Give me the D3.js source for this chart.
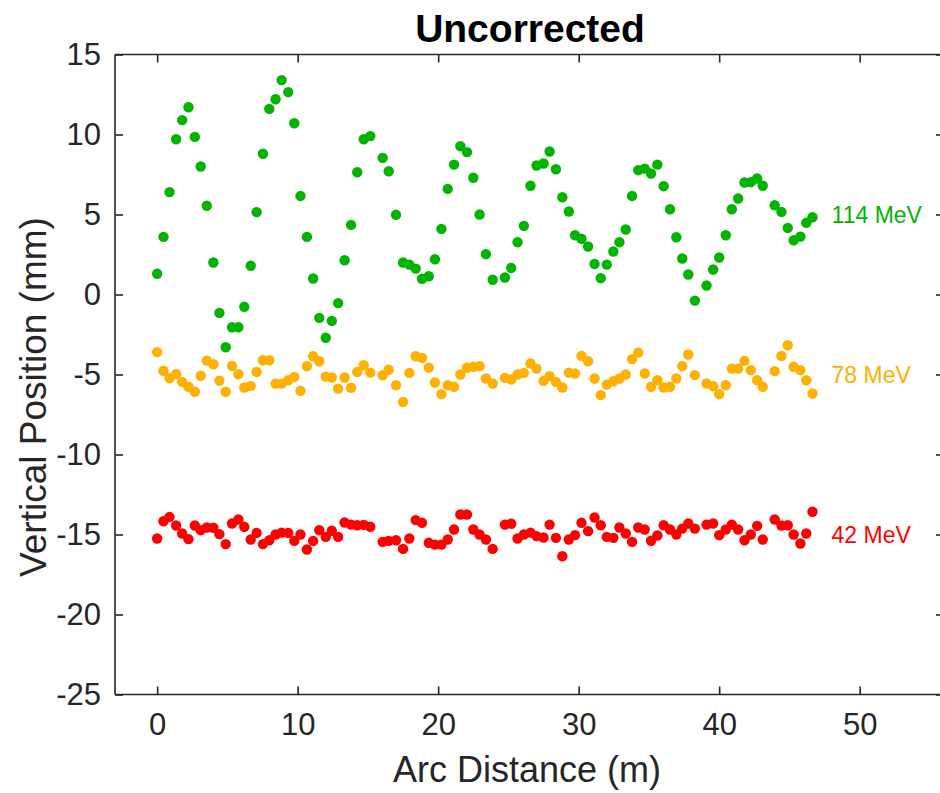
<!DOCTYPE html>
<html><head><meta charset="utf-8">
<script src="https://cdn.jsdelivr.net/npm/d3@7"></script>
<style>
body{margin:0;background:#fff;}
text{font-family:"Liberation Sans",Arial,Helvetica,sans-serif;}
</style></head>
<body><svg id="c" width="940" height="793"></svg>
<script>
const arcDistance=[0,0.45,0.88,1.35,1.78,2.23,2.68,3.1,3.53,4.0,4.43,4.88,5.33,5.78,6.2,6.66,7.08,7.53,7.98,8.43,8.86,9.33,9.76,10.2,10.66,11.1,11.54,12.0,12.43,12.88,13.34,13.8,14.24,14.7,15.17,
16.05,16.48,17.0,17.5,17.95,18.4,18.85,19.33,19.77,20.23,20.68,21.13,21.58,22.05,22.5,22.95,23.4,23.88,
24.75,25.2,25.65,26.1,26.57,27.0,27.5,27.93,28.38,28.84,29.3,29.74,30.2,30.67,31.13,31.57,32.0,32.47,32.9,33.35,33.8,34.24,34.7,35.15,35.6,36.05,36.5,36.95,37.37,37.8,38.27,
39.1,39.57,40.0,40.47,40.9,41.35,41.8,42.25,42.7,43.1,
43.95,44.43,44.88,45.3,45.78,46.2,46.64];

const mev114=[1.3,3.6,6.4,9.7,10.9,11.7,9.85,8.0,5.55,2.0,-1.15,-3.3,-2.05,-2.05,-0.77,1.8,5.15,8.8,11.6,12.2,13.4,12.65,10.7,6.16,3.6,1.0,-1.46,-2.7,-1.65,-0.54,2.14,4.35,7.64,9.7,9.9,
8.54,7.7,4.98,2.0,1.87,1.62,0.98,1.14,2.2,4.1,6.6,8.12,9.27,8.9,7.3,5.0,2.52,0.92,
1.06,1.66,3.27,4.29,6.8,8.06,8.19,8.94,7.83,6.08,5.19,3.7,3.48,3.0,1.91,1.02,1.87,2.69,3.27,4.06,6.16,7.77,7.87,7.56,8.12,6.77,5.33,3.58,2.25,1.25,-0.38,
0.56,1.56,2.31,3.7,5.33,6.0,7.0,7.02,7.25,6.8,
5.58,5.16,4.16,3.39,3.62,4.48,4.83];

const mev78=[-3.6,-4.77,-5.23,-4.98,-5.46,-5.77,-6.08,-5.08,-4.13,-4.36,-5.38,-6.08,-4.46,-4.98,-5.81,-5.71,-4.84,-4.11,-4.11,-5.57,-5.57,-5.36,-5.15,-6.02,-4.48,-3.86,-4.17,-5.13,-5.19,-5.88,-5.19,-5.83,-4.84,-4.42,-4.88,
-5.05,-4.7,-5.67,-6.71,-4.9,-3.86,-3.96,-4.57,-5.5,-6.23,-5.67,-5.77,-5.0,-4.58,-4.52,-4.48,-5.25,-5.56,
-5.21,-5.31,-5.0,-4.9,-4.31,-4.63,-5.4,-5.1,-5.46,-5.81,-4.88,-4.94,-3.84,-4.17,-5.25,-6.29,-5.63,-5.42,-5.25,-5.0,-4.04,-3.63,-4.94,-5.77,-5.36,-5.81,-5.77,-5.25,-4.48,-3.75,-5.04,
-5.56,-5.73,-6.23,-5.67,-4.63,-4.63,-4.15,-4.73,-5.36,-5.77,
-4.79,-3.84,-3.17,-4.52,-4.73,-5.36,-6.19];

const mev42=[-15.25,-14.17,-13.9,-14.44,-14.94,-15.29,-14.44,-14.73,-14.56,-14.58,-14.98,-15.6,-14.31,-14.06,-14.52,-15.31,-14.9,-15.6,-15.36,-15.0,-14.88,-14.9,-15.4,-15.0,-15.94,-15.4,-14.73,-15.15,-14.77,-15.15,-14.25,-14.38,-14.42,-14.4,-14.52,
-15.46,-15.4,-15.36,-15.9,-15.25,-14.1,-14.27,-15.52,-15.63,-15.63,-15.31,-14.69,-13.75,-13.75,-14.69,-15.0,-15.31,-15.9,
-14.38,-14.33,-15.25,-15.0,-14.88,-15.1,-15.19,-14.38,-15.21,-16.36,-15.31,-15.04,-14.27,-14.79,-13.94,-14.42,-15.15,-15.21,-14.56,-14.94,-15.46,-14.56,-14.69,-15.39,-15.06,-14.42,-14.69,-15.0,-14.63,-14.31,-14.63,
-14.38,-14.31,-15.04,-14.69,-14.38,-14.69,-15.36,-15.0,-14.46,-15.31,
-14.06,-14.44,-14.42,-15.0,-15.56,-14.94,-13.58];

const seriesNames=["42 MeV","78 MeV","114 MeV"];
const seriesColors=["#ff0000","#ffb000","#00b400"];
const seriesValues=[mev42,mev78,mev114];
const labelX=[48,48,48];
const labelY=[-15,-5,5];
const xTicks=[0,10,20,30,40,50];
const yTicks=[-25,-20,-15,-10,-5,0,5,10,15];
const title="Uncorrected";
const xLabel="Arc Distance (m)";
const yLabel="Vertical Position (mm)";

const L=115,R=944,T=54.5,B=694.5;
const x=d3.scaleLinear().domain([-3,56]).range([L,R]);
const y=d3.scaleLinear().domain([-25,15]).range([B,T]);
const svg=d3.select("#c");
const axCol="#262626";
const fmt=d=>String(d);

seriesValues.forEach((vals,i)=>{
  svg.append("g").selectAll("circle").data(vals).join("circle")
    .attr("cx",(d,j)=>x(arcDistance[j])).attr("cy",d=>y(d)).attr("r",5.2)
    .attr("fill",seriesColors[i]);
  svg.append("text").attr("x",x(labelX[i])).attr("y",y(labelY[i]))
    .attr("dy","0.36em").attr("font-size",23).attr("fill",seriesColors[i])
    .text(seriesNames[i]);
});

const tl=8;
const gx=svg.append("g").attr("transform",`translate(0,${B})`)
  .call(d3.axisBottom(x).tickValues(xTicks).tickSize(-tl).tickPadding(18).tickFormat(fmt));
const gxt=svg.append("g").attr("transform",`translate(0,${T})`)
  .call(d3.axisTop(x).tickValues(xTicks).tickSize(-tl).tickFormat(""));
const gy=svg.append("g").attr("transform",`translate(${L},0)`)
  .call(d3.axisLeft(y).tickValues(yTicks).tickSize(-tl).tickPadding(14).tickFormat(fmt));
const gyr=svg.append("g").attr("transform",`translate(${R},0)`)
  .call(d3.axisRight(y).tickValues(yTicks).tickSize(-tl).tickFormat(""));
[gx,gxt,gy,gyr].forEach(g=>{
  g.select(".domain").attr("stroke",axCol).attr("stroke-width",1.6);
  g.selectAll(".tick line").attr("stroke",axCol).attr("stroke-width",1.6);
  g.selectAll("text").attr("fill",axCol).attr("font-size",31)
   .attr("font-family","'Liberation Sans',Arial,sans-serif");
});
gy.selectAll(".domain").attr("d",`M0,${T}V${B}`);
gyr.selectAll(".domain").attr("d",`M0,${T}V${B}`);
gx.selectAll(".domain").attr("d",`M${L},0H${R}`);
gxt.selectAll(".domain").attr("d",`M${L},0H${R}`);

svg.append("text").attr("x",530).attr("y",42).attr("text-anchor","middle")
  .attr("font-size",39).attr("font-weight","bold").attr("fill","#000").text(title);
svg.append("text").attr("x",527).attr("y",782).attr("text-anchor","middle")
  .attr("font-size",36).attr("fill",axCol).text(xLabel);
svg.append("text").attr("transform",`translate(46,397) rotate(-90)`)
  .attr("text-anchor","middle").attr("font-size",37).attr("fill",axCol).text(yLabel);
</script></body></html>
